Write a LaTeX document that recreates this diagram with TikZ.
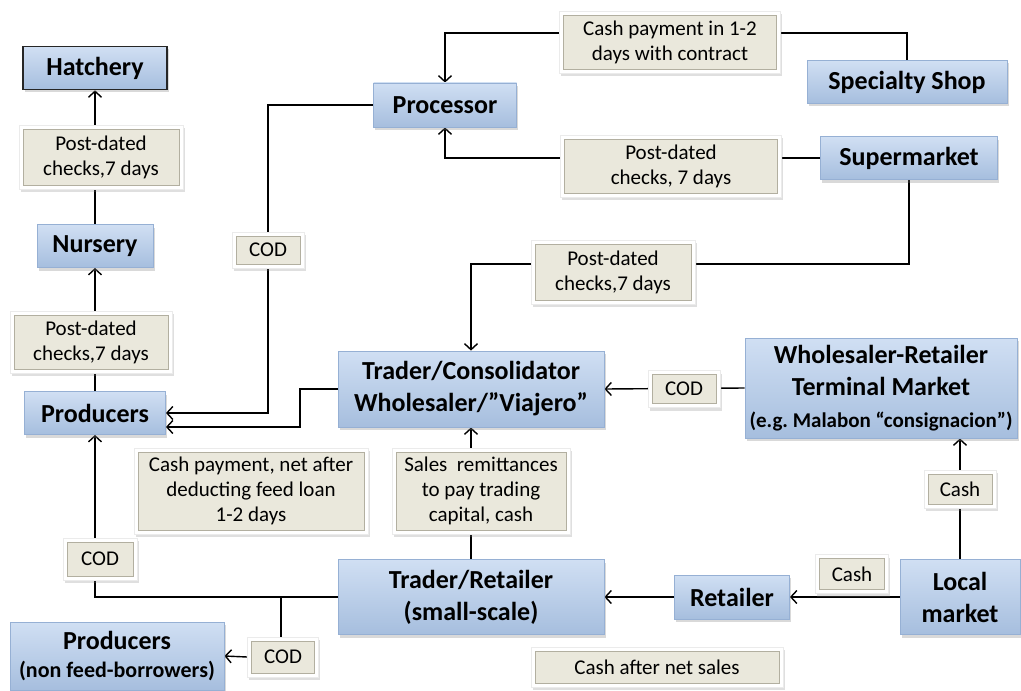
\documentclass[tikz,border=0pt]{standalone}
\usepackage{fontspec}
\setmainfont{Carlito}
\usetikzlibrary{arrows.meta,shadows,backgrounds}

\definecolor{boxtop}{RGB}{208,223,243}
\definecolor{boxbot}{RGB}{166,190,222}
\definecolor{boxedge}{RGB}{150,176,212}
\definecolor{notefill}{RGB}{234,232,220}
\definecolor{noteedge}{RGB}{178,175,160}

\begin{document}
\begin{tikzpicture}[x=0.5pt,y=-0.5pt,
		actor/.style={top color=boxtop, bottom color=boxbot, draw=boxedge, line width=0.4pt,
			drop shadow={opacity=0.3,shadow xshift=0.8pt,shadow yshift=-1.5pt},
			align=center, inner sep=1pt, font=\fontsize{13}{16}\selectfont\bfseries},
		note/.style={fill=white, draw=white!92!black, line width=0.3pt,
			drop shadow={opacity=0.25,shadow xshift=0.8pt,shadow yshift=-1.5pt},
			path picture={\fill[notefill, draw=noteedge, line width=0.4pt]
				([xshift=2pt,yshift=-2pt]path picture bounding box.north west) rectangle
				([xshift=-2pt,yshift=2pt]path picture bounding box.south east);},
			align=center, inner sep=1pt, font=\fontsize{10.5}{12.5}\selectfont},
		flow/.style={line width=0.7pt, -{Straight Barb[length=3pt,width=6.5pt]}},
		link/.style={line width=0.7pt}]
	\useasboundingbox (0,0) rectangle (1021,690);

	% left column
	\node[actor, draw=black!85, line width=0.8pt, minimum width=72pt, minimum height=21.5pt] (hatch) at (95,68) {Hatchery};
	\node[note, minimum width=82pt, minimum height=32pt] (pdc1) at (101,157) {Post-dated\\checks,7 days};
	\node[actor, minimum width=58pt, minimum height=21.5pt] (nurs) at (95,246) {Nursery};
	\node[note, minimum width=81pt, minimum height=31pt] (pdc2) at (91,342) {Post-dated\\checks,7 days};
	\node[actor, minimum width=70.5pt, minimum height=21.5pt] (prod) at (95,413) {Producers};
	\node[note, minimum width=37pt, minimum height=21pt] (cod3) at (100,559) {COD};
	\node[actor, minimum width=107pt, minimum height=34pt] (prodnf) at (117,656) {Producers\\[-2pt]{\fontsize{11}{13}\selectfont(non feed-borrowers)}};
	\node[note, minimum width=35.5pt, minimum height=20pt] (cod4) at (283,657) {COD};

	% processor and buyers
	\node[note, minimum width=36pt, minimum height=18pt] (cod1) at (268,250) {COD};
	\node[actor, minimum width=71.5pt, minimum height=22pt] (proc) at (445,105) {Processor};
	\node[note, minimum width=110.5pt, minimum height=31pt] (cpay) at (670,42) {Cash payment in 1-2\\days with contract};
	\node[actor, minimum width=100pt, minimum height=21.5pt] (spec) at (907,82) {Specialty Shop};
	\node[note, minimum width=110.5pt, minimum height=31pt] (pdc3) at (671,166) {Post-dated\\checks, 7 days};
	\node[actor, minimum width=88.5pt, minimum height=21.5pt] (super) at (909,158) {Supermarket};
	\node[note, minimum width=82pt, minimum height=32pt] (pdc4) at (613,272) {Post-dated\\checks,7 days};

	% traders
	\node[actor, minimum width=133pt, minimum height=38pt] (trcons) at (471,389) {Trader/Consolidator\\Wholesaler/”Viajero”};
	\node[note, minimum width=36pt, minimum height=18.5pt] (cod2) at (684,389) {COD};
	\node[actor, minimum width=136pt, minimum height=50pt] (whret) at (881,388) {Wholesaler-Retailer\\Terminal Market\\{\fontsize{10.5}{13}\selectfont(e.g.\ Malabon “consignacion”)}};
	\node[note, minimum width=36pt, minimum height=19pt] (cash1) at (960,489) {Cash};
	\node[note, minimum width=117pt, minimum height=43pt] (netpay) at (251,491) {Cash payment, net after\\deducting feed loan\\1-2 days};
	\node[note, minimum width=89pt, minimum height=43pt] (remit) at (481,491) {Sales~ remittances\\to pay trading\\capital, cash};
	\node[actor, minimum width=133pt, minimum height=37.5pt] (trret) at (471,597) {Trader/Retailer\\(small-scale)};
	\node[actor, minimum width=57.5pt, minimum height=22pt] (ret) at (732,597) {Retailer};
	\node[note, minimum width=36.5pt, minimum height=19.5pt] (cash2) at (852,574) {Cash};
	\node[actor, minimum width=60pt, minimum height=37.5pt] (local) at (960,597) {Local\\market};
	\node[note, minimum width=126pt, minimum height=20pt] (netsales) at (657,667) {Cash after net sales};

	\coordinate (bendA) at (300,389);
	\coordinate (bendB) at (670,33);
	\coordinate (bendC) at (613,264);
	\coordinate (fork) at (281,597);

	\begin{scope}[on background layer]
		\draw[flow] (nurs.north) -- (hatch.south);
		\draw[flow] (prod.north) -- (nurs.south);
		\draw[flow] (proc.west) -| (cod1.north) |- (prod.east);
		\draw[flow] (trcons.west) -- (bendA) |- ([yshift=-7pt]prod.east);
		\draw[flow] (spec.north) |- (bendB) -| (proc.north);
		\draw[flow] (super.west) -| (proc.south);
		\draw[flow] (super.south) |- (bendC) -| (trcons.north);
		\draw[flow] (whret.west) -- (trcons.east);
		\draw[flow] (local.north) -- (local.north |- whret.south);
		\draw[flow] (local.west) -- (ret.east);
		\draw[flow] (ret.west) -- (trret.east);
		\draw[flow] (trret.north) -- (trcons.south);
		\draw[flow] (trret.west) -| (prod.south);
		\draw[link] (fork) -- (fork |- cod4.north);
		\draw[flow] (cod4.west) -- (prodnf.east);
	\end{scope}
\end{tikzpicture}
\end{document}
